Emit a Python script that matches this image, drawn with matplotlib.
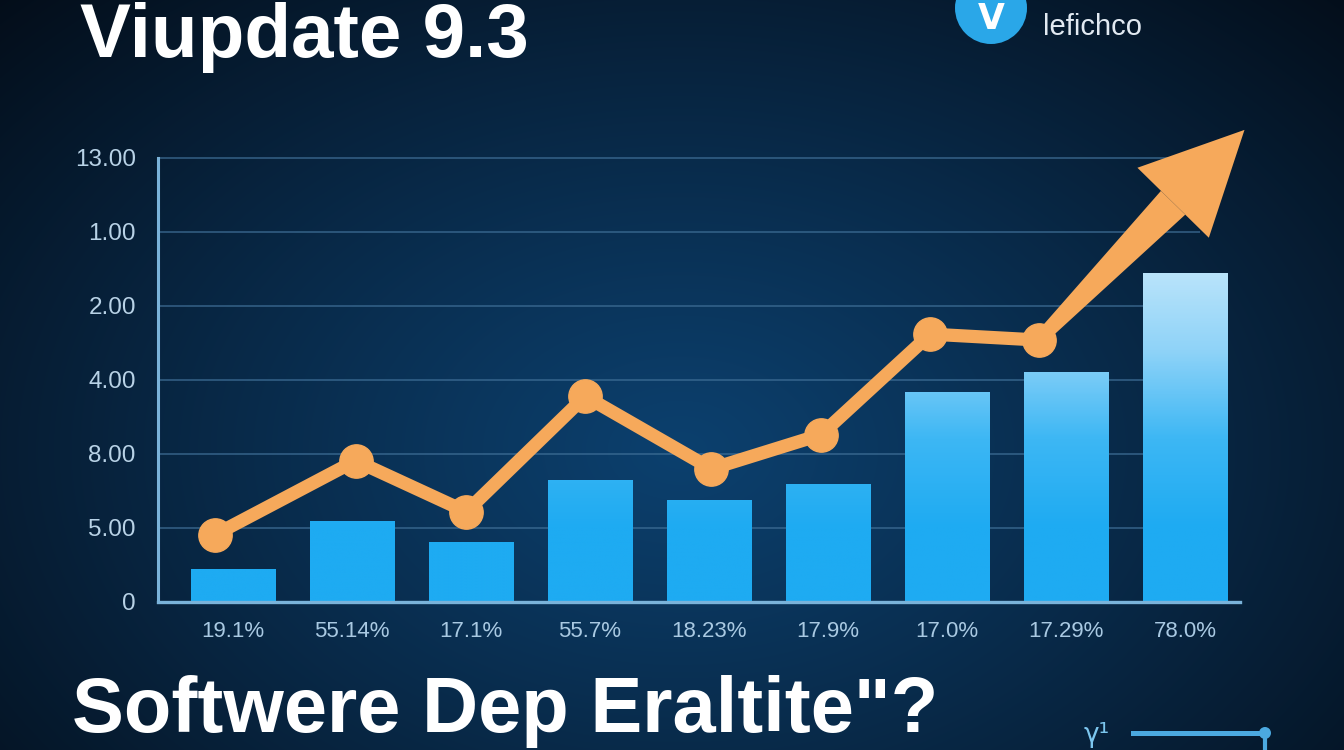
import numpy as np
import matplotlib
matplotlib.use("Agg")
import matplotlib.pyplot as plt
from matplotlib.colors import LinearSegmentedColormap, Normalize, to_rgb
from matplotlib.patches import Polygon, Circle
from matplotlib.lines import Line2D
from matplotlib.transforms import IdentityTransform

# ---------------- data ----------------
categories = ["19.1%", "55.14%", "17.1%", "55.7%", "18.23%", "17.9%", "17.0%", "17.29%", "78.0%"]
bar_values = [0.45, 1.09, 0.81, 1.65, 1.38, 1.59, 2.84, 3.11, 4.45]
line_x = [-0.15, 1.03, 1.96, 2.96, 4.02, 4.94, 5.86, 6.77]
line_y = [0.91, 1.91, 1.22, 2.78, 1.80, 2.26, 3.62, 3.54]
arrow_tip = (8.50, 6.38)
ytick_pos = [0, 1, 2, 3, 4, 5, 6]
ytick_labels = ["0", "5.00", "8.00", "4.00", "2.00", "1.00", "13.00"]
title_top = "Viupdate 9.3"
title_bottom = "Softwere Dep Eraltite\"?"
brand = "lefichco"

W, H = 1344, 750
fig = plt.figure(figsize=(W / 100, H / 100), dpi=100)

# ---------------- background ----------------
bg = fig.add_axes([0, 0, 1, 1], zorder=-10)
yy, xx = np.mgrid[0:H, 0:W]
d = np.sqrt(((xx - 680) / 820.0) ** 2 + ((yy - 450) / 560.0) ** 2)
t = np.clip(d, 0, 1.25) / 1.25
t = t ** 1.1
c0 = np.array(to_rgb("#0c406e"))
c1 = np.array(to_rgb("#030912"))
img = c0[None, None, :] * (1 - t[..., None]) + c1[None, None, :] * t[..., None]
bg.imshow(img, extent=(0, W, 0, H), origin="upper", aspect="auto")
bg.set_xlim(0, W)
bg.set_ylim(0, H)
bg.axis("off")

# ---------------- main axes ----------------
left_px, right_px = 158, 1250
bottom_px, top_px = 602, 120
ax = fig.add_axes([left_px / W, (H - bottom_px) / H,
                   (right_px - left_px) / W, (bottom_px - top_px) / H])
ax.set_facecolor("none")

x = np.arange(len(categories))
xlim = ((left_px - 233) / 119.0, (right_px - 233) / 119.0)
ylim = (0, (bottom_px - top_px) / 74.0)

# gridlines
for yv in ytick_pos[1:]:
    ax.hlines(yv, xlim[0], (1200 - 233) / 119.0, color="#3f6f97", lw=1.2, alpha=0.75, zorder=1)

# bars with vertical gradient
cmap = LinearSegmentedColormap.from_list("barg", ["#1eabf2", "#3db7f4", "#8fd3f8", "#bfe6fb"])
norm = Normalize(vmin=1.0, vmax=4.6)
bw = 0.71
bars = ax.bar(x, bar_values, width=bw, color="none", edgecolor="none", zorder=2)
for rect, v in zip(bars, bar_values):
    x0 = rect.get_x()
    grad = np.linspace(0, v, 200)[:, None]
    im = ax.imshow(grad, extent=(x0, x0 + bw, 0, v), origin="lower", aspect="auto",
                   cmap=cmap, norm=norm, zorder=2)
    im.set_clip_path(rect)

ax.set_xlim(*xlim)
ax.set_ylim(*ylim)

# line
line_col = "#f6a95b"
ax.plot(line_x, line_y, color=line_col, lw=9.5, marker="o", ms=24,
        solid_joinstyle="round", solid_capstyle="round", zorder=5)

# spines / ticks
for s in ["top", "right"]:
    ax.spines[s].set_visible(False)
ax.spines["left"].set_bounds(0, 6)
ax.spines["left"].set_color("#7ab3da")
ax.spines["left"].set_linewidth(2.2)
ax.spines["bottom"].set_bounds(xlim[0], (1240 - 233) / 119.0)
ax.spines["bottom"].set_color("#7ab3da")
ax.spines["bottom"].set_linewidth(2.4)

ax.set_yticks(ytick_pos)
ax.set_yticklabels(ytick_labels)
ax.set_xticks(x)
ax.set_xticklabels(categories)
ax.tick_params(axis="y", length=0, pad=16, labelsize=17.5, labelcolor="#b8d2e6")
ax.tick_params(axis="x", length=0, pad=14, labelsize=16, labelcolor="#a9c9e2")
for lab in ax.get_yticklabels():
    lab.set_family(["Liberation Sans", "DejaVu Sans"])
for lab in ax.get_xticklabels():
    lab.set_family(["Liberation Sans Narrow", "Liberation Sans", "DejaVu Sans"])

# arrow (shaft + head) computed in display pixels from data
P = ax.transData.transform((line_x[-1], line_y[-1]))
T = ax.transData.transform(arrow_tip)
u = (T - P) / np.linalg.norm(T - P)
n = np.array([-u[1], u[0]])
L, HW = 102.0, 50.0
base = T - L * u
w0, w1 = 6.5, 17.0
shaft = Polygon([P + w0 * n, base + w1 * n, base - w1 * n, P - w0 * n],
                closed=True, facecolor=line_col, edgecolor="none",
                transform=IdentityTransform(), zorder=3)
head = Polygon([T, base + HW * n, base - HW * n], closed=True,
               facecolor=line_col, edgecolor="none",
               transform=IdentityTransform(), zorder=3)
fig.add_artist(shaft)
fig.add_artist(head)

# ---------------- texts ----------------
fig.text(80 / W, 1 - 57 / H, title_top, color="white", fontsize=55, fontweight="bold",
         family=["Liberation Sans", "DejaVu Sans"], ha="left", va="baseline")
fig.text(72 / W, 1 - 732 / H, title_bottom, color="white", fontsize=56, fontweight="bold",
         family=["Liberation Sans", "DejaVu Sans"], ha="left", va="baseline")

# logo
fig.add_artist(Circle((991, H - 8), 36, facecolor="#2aa7e8", edgecolor="none",
                      transform=IdentityTransform()))
fig.text(991 / W, 1 - 29 / H, "V", color="white", fontsize=25, fontweight="bold",
         family=["DejaVu Sans"], ha="center", va="baseline")
fig.text(1043 / W, 1 - 35 / H, brand, color="#e2eaf2", fontsize=21,
         family=["Liberation Sans", "DejaVu Sans"], ha="left", va="baseline")

# bottom-right icon
fig.text(1084 / W, 1 - 742 / H, "γ¹", color="#7cc6ee", fontsize=19,
         family=["DejaVu Sans"], ha="left", va="baseline")
fig.add_artist(Line2D([1133, 1265], [H - 733, H - 733], color="#4ba9e0", lw=3.6,
                      transform=IdentityTransform()))
fig.add_artist(Line2D([1265, 1265], [H - 733, 0], color="#4ba9e0", lw=3.0,
                      transform=IdentityTransform()))
fig.add_artist(Circle((1265, H - 733), 6, facecolor="#4ba9e0", edgecolor="none",
                      transform=IdentityTransform()))

fig.savefig("out.png", dpi=100)
